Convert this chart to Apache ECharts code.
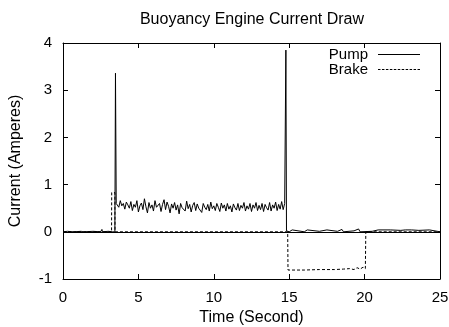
<!DOCTYPE html>
<html>
<head>
<meta charset="utf-8">
<script src="https://cdn.jsdelivr.net/npm/echarts@6/dist/echarts.min.js"></script>
<style>
  html, body { margin: 0; padding: 0; background: #fff; }
  #main { width: 449px; height: 327px; }
</style>
</head>
<body>
<div id="main"></div>
<script>
var xTicks = [0, 5, 10, 15, 20, 25];
var yTicks = [-1, 0, 1, 2, 3, 4];

// pump current, [time s, amperes]
var pumpBefore = [
  [0, 0], [0.3, 0.01], [0.7, 0], [1.2, 0.01], [1.3, 0.04], [1.35, 0], [2.0, 0.01],
  [2.5, 0], [2.58, 0.05], [2.62, 0], [3.0, 0.01], [3.3, 0], [3.44, 0]
];
var pumpSpike1 = [[3.48, 3.36], [3.53, 0.6]];
// running segment, 3.6 s .. 14.7 s, every 0.1 s
var pumpRun = [
  0.62, 0.52, 0.66, 0.55, 0.60, 0.48, 0.63, 0.57, 0.50, 0.64,
  0.45, 0.58, 0.52, 0.66, 0.42, 0.55, 0.61, 0.47, 0.70, 0.53,
  0.40, 0.62, 0.50, 0.57, 0.44, 0.66, 0.52, 0.48, 0.60, 0.43,
  0.58, 0.68, 0.47, 0.63, 0.54, 0.40, 0.59, 0.50, 0.62, 0.46,
  0.57, 0.38, 0.60, 0.51, 0.55, 0.44, 0.65, 0.49, 0.58, 0.42,
  0.56, 0.62, 0.45, 0.59, 0.50, 0.54, 0.41, 0.60, 0.52, 0.47,
  0.58, 0.44, 0.63, 0.49, 0.55, 0.45, 0.60, 0.52, 0.43, 0.61,
  0.50, 0.57, 0.44, 0.60, 0.48, 0.55, 0.42, 0.59, 0.51, 0.46,
  0.60, 0.45, 0.56, 0.50, 0.62, 0.44, 0.55, 0.48, 0.60, 0.43,
  0.57, 0.50, 0.62, 0.45, 0.56, 0.47, 0.60, 0.43, 0.58, 0.51,
  0.46, 0.62, 0.44, 0.57, 0.50, 0.63, 0.45, 0.58, 0.48, 0.64,
  0.47, 0.60
];
var pumpSpike2 = [[14.78, 3.85], [14.82, 0.02]];
var pumpAfter = [
  [15.0, 0], [15.2, 0.04], [15.3, 0], [16.0, 0], [16.2, 0.04], [16.3, 0], [17.0, 0.01],
  [17.5, 0.04], [17.6, 0], [18.2, 0.01], [18.5, 0.05], [18.6, 0], [19.3, 0.02],
  [19.6, 0.06], [19.7, 0], [20.5, 0.01], [20.9, 0.04], [21.0, 0], [21.7, 0.04], [21.8, 0],
  [22.4, 0.03], [22.5, 0.01], [22.7, 0.04], [22.8, 0], [23.1, 0.04], [23.2, 0.01],
  [23.6, 0.03], [23.7, 0], [24.3, 0.04], [24.4, 0], [25, 0]
];

// brake current, [time s, amperes]
var brake = [
  [0, 0], [3.22, 0], [3.23, 0.83], [3.44, 0.83], [3.45, 0], [14.9, 0], [14.92, -0.81],
  [16.0, -0.81], [17.0, -0.80], [18.0, -0.80], [18.6, -0.79], [19.0, -0.78],
  [19.3, -0.80], [19.5, -0.76], [19.7, -0.79], [19.9, -0.75], [20.05, -0.78], [20.08, 0], [25, 0]
];

var pump = pumpBefore.concat(pumpSpike1);
for (var i = 0; i < pumpRun.length; i++) {
  pump.push([+(3.6 + i * 0.1).toFixed(2), pumpRun[i]]);
}
pump = pump.concat(pumpSpike2, pumpAfter);

var font = 'Liberation Sans, Arial, sans-serif';
var fs = 15;

// legend line samples
var solidIcon = 'path://M0,0H42V1H0Z';
var dashIcon = 'path://';
for (var d = 0; d < 42; d += 4) {
  dashIcon += 'M' + d + ',0H' + (d + 2.5) + 'V1H' + d + 'Z';
}

var chart = echarts.init(document.getElementById('main'));

function axisBase() {
  return {
    axisLine: { show: true, onZero: false, lineStyle: { color: '#000', width: 1 } },
    axisTick: { show: true, inside: true, length: 5, lineStyle: { color: '#000' } },
    splitLine: { show: false }
  };
}

var option = {
  animation: false,
  backgroundColor: '#fff',
  title: {
    text: 'Buoyancy Engine Current Draw',
    left: 252, top: 12, textAlign: 'center', padding: 0,
    textStyle: { fontFamily: font, fontSize: 16, fontWeight: 'normal', color: '#000' }
  },
  legend: {
    right: 29, top: 47, orient: 'vertical', align: 'right',
    itemWidth: 42, itemHeight: 1, itemGap: 0, padding: 0,
    symbolKeepAspect: false,
    textStyle: { fontFamily: font, fontSize: fs, color: '#000', padding: [0, 5, 0, 0] },
    data: [
      { name: 'Pump', icon: solidIcon, itemStyle: { color: '#000' } },
      { name: 'Brake', icon: dashIcon, itemStyle: { color: '#000' } }
    ]
  },
  grid: { left: 63, right: 9, top: 43, bottom: 48, outerBoundsMode: 'none' },
  xAxis: [
    Object.assign(axisBase(), {
      type: 'value', min: 0, max: 25, interval: 5,
      name: 'Time (Second)', nameLocation: 'middle', nameGap: 25,
      nameTextStyle: { fontFamily: font, fontSize: 16, color: '#000' },
      axisLabel: { fontFamily: font, fontSize: fs, color: '#000', margin: 11 }
    }),
    Object.assign(axisBase(), {
      type: 'value', position: 'top', min: 0, max: 25, interval: 5,
      axisLabel: { show: false }
    })
  ],
  yAxis: [
    Object.assign(axisBase(), {
      type: 'value', min: -1, max: 4, interval: 1,
      name: 'Current (Amperes)', nameLocation: 'middle', nameGap: 39,
      nameTextStyle: { fontFamily: font, fontSize: 16, color: '#000' },
      axisLabel: { fontFamily: font, fontSize: fs, color: '#000', margin: 11 }
    }),
    Object.assign(axisBase(), {
      type: 'value', position: 'right', min: -1, max: 4, interval: 1,
      axisLabel: { show: false }
    })
  ],
  series: [
    {
      name: 'Pump', type: 'line', data: pump, showSymbol: false, symbol: 'none',
      lineStyle: { color: '#000', width: 1 }, itemStyle: { color: '#000' },
      markLine: {
        silent: true, symbol: 'none', label: { show: false },
        lineStyle: { color: '#000', width: 1, type: 'solid' },
        data: [{ yAxis: 0 }]
      }
    },
    {
      name: 'Brake', type: 'line', data: brake, showSymbol: false, symbol: 'none',
      lineStyle: { color: '#000', width: 1, type: [3, 2] }, itemStyle: { color: '#000' }
    }
  ]
};

chart.setOption(option);
</script>
</body>
</html>
